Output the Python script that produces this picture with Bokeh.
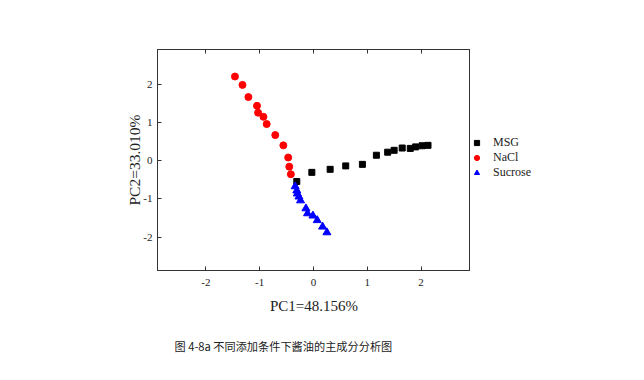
from bokeh.plotting import figure
from bokeh.layouts import row
from bokeh.models import Range1d, LinearAxis, FixedTicker, Legend, LegendItem, Title
from bokeh.embed import file_html
from bokeh.resources import INLINE

# ---- data ----
msg_x = [-0.31, -0.03, 0.31, 0.60, 0.91, 1.17, 1.38, 1.50, 1.65, 1.80, 1.90, 2.02, 2.13]
msg_y = [-0.54, -0.30, -0.22, -0.13, -0.09, 0.15, 0.23, 0.28, 0.34, 0.33, 0.37, 0.40, 0.41]

nacl_x = [-1.46, -1.32, -1.21, -1.05, -1.03, -0.93, -0.87, -0.71, -0.56, -0.47, -0.45, -0.42]
nacl_y = [2.22, 2.00, 1.68, 1.45, 1.27, 1.16, 0.97, 0.68, 0.41, 0.09, -0.15, -0.35]

suc_x = [-0.34, -0.31, -0.30, -0.27, -0.24, -0.14, -0.11, -0.01, 0.07, 0.17, 0.25]
suc_y = [-0.67, -0.78, -0.86, -0.94, -1.04, -1.25, -1.38, -1.44, -1.56, -1.73, -1.88]

tick_values = [-2, -1, 0, 1, 2]
tick_labels = ["-2", "-1", "0", "1", "2"]
series_names = ["MSG", "NaCl", "Sucrose"]
x_label = "PC1=48.156%"
y_label = "PC2=33.010%"
caption = "图 4-8a 不同添加条件下酱油的主成分分析图"

SERIF = "Liberation Serif"
CJK = "Noto Sans CJK SC"
AXIS_COLOR = "#333333"
TEXT_COLOR = "#222222"

H = 372
p = figure(width=470, height=H, output_backend="svg", toolbar_location=None,
           x_range=Range1d(-2.9, 2.92), y_range=Range1d(-2.88, 2.93),
           min_border_left=157, min_border_right=0,
           min_border_top=49, min_border_bottom=H - 49 - 232)
p.background_fill_color = "white"
p.border_fill_color = "white"
p.outline_line_color = AXIS_COLOR
p.xgrid.grid_line_color = None
p.ygrid.grid_line_color = None

def style_axis(ax, show_labels=True):
    ax.ticker = FixedTicker(ticks=tick_values)
    ax.major_tick_in = 4
    ax.major_tick_out = 0
    ax.minor_tick_line_color = None
    ax.axis_line_color = AXIS_COLOR
    ax.major_tick_line_color = AXIS_COLOR
    ax.major_label_text_font = SERIF
    ax.major_label_text_color = TEXT_COLOR
    ax.major_label_text_font_size = "11px"
    ax.axis_label_text_font = SERIF
    ax.axis_label_text_font_style = "normal"
    ax.axis_label_text_color = TEXT_COLOR
    if show_labels:
        ax.major_label_overrides = {v: s for v, s in zip(tick_values, tick_labels)}
    else:
        ax.major_label_overrides = {v: "" for v in tick_values}
        ax.major_label_standoff = 0

style_axis(p.xaxis[0])
style_axis(p.yaxis[0])
p.xaxis[0].axis_label = x_label
p.yaxis[0].axis_label = y_label
p.xaxis[0].axis_label_text_font_size = "15px"
p.yaxis[0].axis_label_text_font_size = "15.5px"
p.xaxis[0].major_label_standoff = 8
p.xaxis[0].axis_label_standoff = 9
p.yaxis[0].major_label_standoff = 5
p.yaxis[0].axis_label_standoff = -3

top_ax = LinearAxis()
style_axis(top_ax, show_labels=False)
p.add_layout(top_ax, "above")

p.scatter(msg_x, msg_y, marker="square", size=6, color="black")
p.scatter(nacl_x, nacl_y, marker="circle", size=7, color="#ff0000")
p.scatter(suc_x, suc_y, marker="triangle", size=8, color="#0000ff")

cap_title = Title(text=caption, align="left", offset=17, text_font=CJK, text_font_size="11.2px",
                  text_font_style="normal", text_color=TEXT_COLOR, standoff=38)
p.add_layout(cap_title, "below")

# ---- legend strip to the right of the chart (its own figure, so it is not clipped) ----
lg = figure(width=130, height=H, output_backend="svg", toolbar_location=None,
            x_range=Range1d(10, 11), y_range=Range1d(10, 11),
            min_border=0, x_axis_location=None, y_axis_location=None)
lg.outline_line_color = None
lg.background_fill_color = "white"
lg.border_fill_color = "white"
lg.xgrid.grid_line_color = None
lg.ygrid.grid_line_color = None
k_msg = lg.scatter(msg_x, msg_y, marker="square", size=6, color="black", visible=False)
k_nacl = lg.scatter(nacl_x, nacl_y, marker="circle", size=7, color="#ff0000", visible=False)
k_suc = lg.scatter(suc_x, suc_y, marker="triangle", size=8, color="#0000ff", visible=False)

legend = Legend(items=[LegendItem(label=series_names[0], renderers=[k_msg]),
                       LegendItem(label=series_names[1], renderers=[k_nacl]),
                       LegendItem(label=series_names[2], renderers=[k_suc])],
                location=(0, 90))
legend.border_line_color = None
legend.background_fill_alpha = 0
legend.inactive_fill_alpha = 0
legend.padding = 0
legend.margin = 0
legend.spacing = 0
legend.glyph_width = 13
legend.glyph_height = 15
legend.label_height = 15
legend.label_standoff = 10
legend.label_text_font = SERIF
legend.label_text_font_size = "12px"
legend.label_text_color = TEXT_COLOR
lg.add_layout(legend)

layout = row(p, lg, spacing=0)
open("out.html", "w").write(file_html(layout, INLINE))
